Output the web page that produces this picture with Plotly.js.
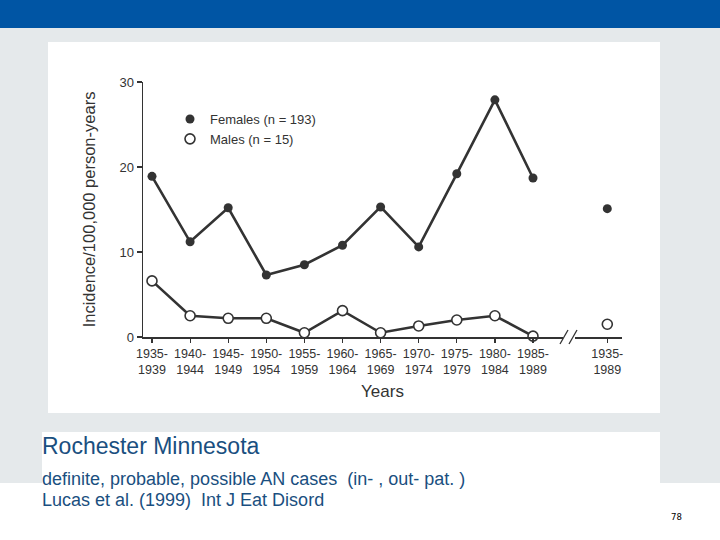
<!DOCTYPE html>
<html>
<head>
<meta charset="utf-8">
<script src="https://cdn.plot.ly/plotly-3.0.1.min.js"></script>
<style>html,body{margin:0;padding:0;background:#E5E9EB;}#chart{width:720px;height:540px;}</style>
</head>
<body>
<div id="chart"></div>
<script>
// ---- data ----
const periodLabels = ["1935-<br>1939","1940-<br>1944","1945-<br>1949","1950-<br>1954","1955-<br>1959","1960-<br>1964","1965-<br>1969","1970-<br>1974","1975-<br>1979","1980-<br>1984","1985-<br>1989"];
const periodPos = [0,1,2,3,4,5,6,7,8,9,10];
const totalLabel = "1935-<br>1989";
const totalPos = 11.95;
const femalesPeriod = [18.9, 11.2, 15.2, 7.3, 8.5, 10.8, 15.3, 10.6, 19.2, 27.9, 18.7];
const malesPeriod   = [6.6, 2.5, 2.2, 2.2, 0.5, 3.1, 0.5, 1.3, 2.0, 2.5, 0.1];
const femalesTotal = 15.1;
const malesTotal = 1.5;
const yTicks = [0, 10, 20, 30];

const ink = '#333333';
const font = 'Liberation Sans, Arial, Helvetica, sans-serif';
const W = 720, H = 540;
const px = v => v / W;
const py = v => 1 - v / H;

const femMarker = {symbol: 'circle', size: 9, color: ink, line: {width: 0}};
const maleMarkerFill = {symbol: 'circle', size: 10, color: '#ffffff', line: {width: 1.6, color: ink}};

const traces = [
  {x: periodPos, y: femalesPeriod, mode: 'lines+markers', line: {color: ink, width: 2.6}, marker: femMarker, showlegend: false, cliponaxis: false},
  {x: [totalPos], y: [femalesTotal], mode: 'markers', marker: femMarker, showlegend: false, cliponaxis: false},
  {x: periodPos, y: malesPeriod, mode: 'lines+markers', line: {color: ink, width: 2.6}, marker: maleMarkerFill, showlegend: false, cliponaxis: false},
  {x: [totalPos], y: [malesTotal], mode: 'markers', marker: maleMarkerFill, showlegend: false, cliponaxis: false},
  {x: [null], y: [null], mode: 'markers', name: 'Females (n = 193)', marker: femMarker},
  {x: [null], y: [null], mode: 'markers', name: 'Males (n = 15)', marker: maleMarkerFill}
];

const x0 = 152, step = 38.1;
const dx = p => (p - x0) / step;

const shapes = [
  {type: 'rect', xref: 'paper', yref: 'paper', x0: 0, x1: 1, y0: py(28), y1: 1, fillcolor: '#0055A4', line: {width: 0}, layer: 'below'},
  {type: 'rect', xref: 'paper', yref: 'paper', x0: px(48), x1: px(660), y0: py(413), y1: py(42), fillcolor: '#ffffff', line: {width: 0}, layer: 'below'},
  {type: 'rect', xref: 'paper', yref: 'paper', x0: px(42), x1: px(660), y0: py(483), y1: py(432), fillcolor: '#ffffff', line: {width: 0}, layer: 'below'},
  {type: 'rect', xref: 'paper', yref: 'paper', x0: 0, x1: 1, y0: 0, y1: py(483), fillcolor: '#ffffff', line: {width: 0}, layer: 'below'},
  // axis break
  {type: 'rect', xref: 'paper', yref: 'paper', x0: px(563), x1: px(575), y0: py(340), y1: py(334), fillcolor: '#ffffff', line: {width: 0}, layer: 'above'},
  {type: 'line', xref: 'paper', yref: 'paper', x0: px(560), y0: py(344), x1: px(568), y1: py(330), line: {color: ink, width: 1.3}},
  {type: 'line', xref: 'paper', yref: 'paper', x0: px(569), y0: py(344), x1: px(577), y1: py(330), line: {color: ink, width: 1.3}}
];

const textBlue = '#1A4F80';
const annotations = [
  {xref: 'paper', yref: 'paper', x: px(40), y: py(446), xanchor: 'left', yanchor: 'middle', showarrow: false, text: 'Rochester Minnesota', font: {family: font, size: 23, color: textBlue}},
  {xref: 'paper', yref: 'paper', x: px(40), y: py(479), xanchor: 'left', yanchor: 'middle', showarrow: false, text: 'definite, probable, possible AN cases&nbsp; (in- , out- pat. )', font: {family: font, size: 18, color: textBlue}},
  {xref: 'paper', yref: 'paper', x: px(40), y: py(500), xanchor: 'left', yanchor: 'middle', showarrow: false, text: 'Lucas et al. (1999)&nbsp; Int J Eat Disord', font: {family: font, size: 18, color: textBlue}},
  {xref: 'paper', yref: 'paper', x: px(676), y: py(517), xanchor: 'center', yanchor: 'middle', showarrow: false, text: '78', font: {family: 'DejaVu Sans Mono, monospace', size: 9, color: '#000000'}}
];

const layout = {
  width: W, height: H,
  margin: {l: 0, r: 0, t: 0, b: 0},
  paper_bgcolor: '#E5E9EB',
  plot_bgcolor: 'rgba(0,0,0,0)',
  font: {family: font, color: ink},
  xaxis: {
    domain: [px(143), px(622)],
    range: [dx(143), dx(622)],
    tickvals: periodPos.concat([totalPos]),
    ticktext: periodLabels.concat([totalLabel]),
    ticks: 'outside', ticklen: 4, tickwidth: 1.2, tickcolor: ink,
    showline: true, linecolor: ink, linewidth: 1.5,
    showgrid: false, zeroline: false,
    tickfont: {family: font, size: 12.5, color: ink},
    title: {text: 'Years', font: {family: font, size: 17, color: ink}, standoff: 9},
    automargin: false, fixedrange: true
  },
  yaxis: {
    domain: [py(337), py(82)],
    range: [0, 30],
    tickvals: yTicks,
    ticks: 'outside', ticklen: 5, tickwidth: 1.2, tickcolor: ink,
    showline: true, linecolor: ink, linewidth: 1.5,
    showgrid: false, zeroline: false,
    tickfont: {family: font, size: 13, color: ink},
    title: {text: 'Incidence/100,000 person-years', font: {family: font, size: 16.5, color: ink}, standoff: 19},
    automargin: false, fixedrange: true
  },
  legend: {
    x: px(170), y: py(104), xanchor: 'left', yanchor: 'top',
    bgcolor: 'rgba(0,0,0,0)', borderwidth: 0,
    font: {family: font, size: 13, color: ink},
    itemwidth: 30, tracegroupgap: 0
  },
  shapes: shapes,
  annotations: annotations,
  showlegend: true
};

Plotly.newPlot('chart', traces, layout, {displayModeBar: false, staticPlot: true});
</script>
</body>
</html>
